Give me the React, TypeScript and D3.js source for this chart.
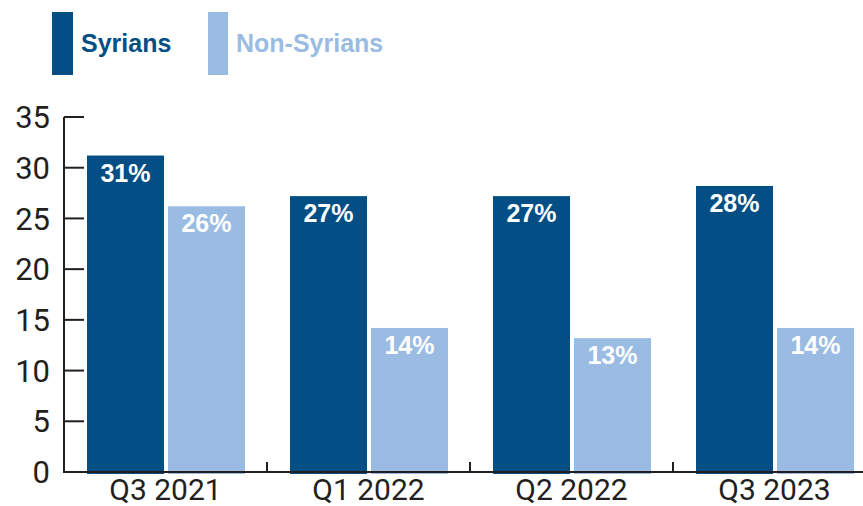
import React from "react";
import * as d3 from "d3";

const categories = ["Q3 2021", "Q1 2022", "Q2 2022", "Q3 2023"];
const series = ["Syrians", "Non-Syrians"];
const syrians = [31.2, 27.2, 27.2, 28.2];
const nonSyrians = [26.2, 14.2, 13.2, 14.2];
const yTicks = [0, 5, 10, 15, 20, 25, 30, 35];
const colors = ["#034f85", "#9abce3"];

const W = 863;
const H = 506;

export default function App() {
  const y = d3.scaleLinear().domain([0, 35]).range([472, 117]);
  const x0 = d3.scaleBand<string>().domain(categories).range([64, 64 + 4 * 203]).padding(0);
  const x1 = d3.scaleBand<string>().domain(series).range([23, 181]).paddingInner(4 / 81).paddingOuter(0);
  const data = categories.map((c, i) => ({ cat: c, vals: [syrians[i], nonSyrians[i]] }));
  const axisColor = "#231f20";
  const tickFont = "Roboto, 'Liberation Sans', sans-serif";
  const labelFont = "'Liberation Sans', Arial, sans-serif";

  return (
    <div style={{ position: "absolute", left: 0, top: 0 }}>
      <svg width={W} height={H} style={{ display: "block" }}>
        <rect width={W} height={H} fill="#fff" />
        {/* legend */}
        <rect x={52} y={12} width={21} height={63} fill={colors[0]} />
        <text x={81} y={52} fontFamily={labelFont} fontWeight="bold" fontSize={25} fill={colors[0]}>Syrians</text>
        <rect x={208} y={12} width={20} height={63} fill={colors[1]} />
        <text x={236} y={52} fontFamily={labelFont} fontWeight="bold" fontSize={25} fill={colors[1]}>Non-Syrians</text>

        {/* bars */}
        {data.map((d) => (
          <g key={d.cat} transform={`translate(${x0(d.cat)},0)`}>
            {d.vals.map((v, j) => {
              const bx = x1(series[j])!;
              const bw = x1.bandwidth();
              return (
                <g key={j}>
                  <rect x={bx} y={y(v)} width={bw} height={y(0) - y(v) + 2} fill={colors[j]} />
                  <text
                    x={bx + bw / 2}
                    y={y(v) + 26}
                    textAnchor="middle"
                    fontFamily={labelFont}
                    fontWeight="bold"
                    fontSize={25}
                    fill="#fff"
                  >
                    {Math.round(v)}%
                  </text>
                </g>
              );
            })}
          </g>
        ))}

        {/* y axis */}
        <line x1={64} x2={64} y1={y(35)} y2={y(0) + 1} stroke={axisColor} strokeWidth={2} />
        {yTicks.map((t) => (
          <g key={t}>
            <line x1={64} x2={84} y1={y(t)} y2={y(t)} stroke={axisColor} strokeWidth={2} />
            <text x={50} y={y(t)} dy="0.36em" textAnchor="end" fontFamily={tickFont} fontSize={31} fill={axisColor}>
              {t}
            </text>
          </g>
        ))}

        {/* x axis */}
        <line x1={64} x2={W} y1={y(0)} y2={y(0)} stroke={axisColor} strokeWidth={2} />
        {categories.slice(1).map((c) => (
          <line key={c} x1={x0(c)!} x2={x0(c)!} y1={y(0)} y2={y(0) - 10} stroke={axisColor} strokeWidth={2} />
        ))}
        {categories.map((c) => (
          <text
            key={c}
            x={x0(c)! + x0.bandwidth() / 2}
            y={500}
            textAnchor="middle"
            fontFamily={tickFont}
            fontSize={30}
            fill={axisColor}
          >
            {c}
          </text>
        ))}
      </svg>
    </div>
  );
}
